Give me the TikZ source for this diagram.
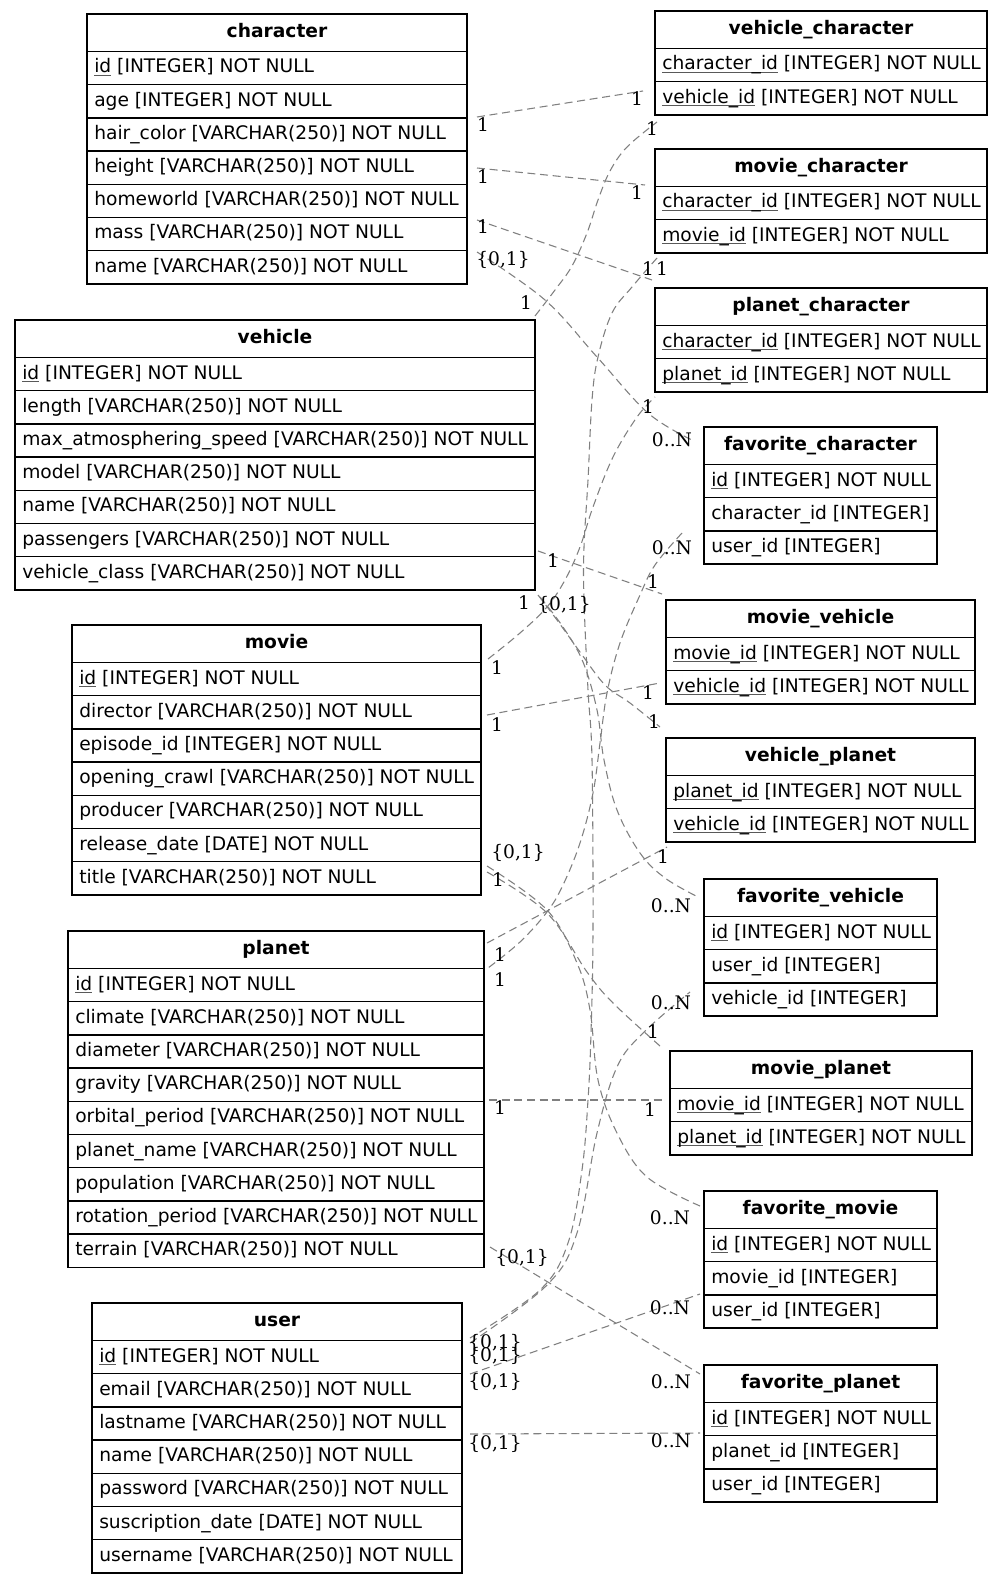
\documentclass[tikz,border=0pt]{standalone}
\usepackage{fontspec}
\setmainfont{DejaVu Sans}
\newfontfamily\lblfont{DejaVu Serif}
\newcommand\keyul[1]{\setbox0=\hbox{#1}\rlap{\textcolor{black!65}{\rule[-2.4pt]{\wd0}{0.8pt}}}\box0\relax}
\tikzset{
  tabframe/.style={draw=black, line width=1.1pt},
  tabrule/.style={draw=black, line width=1pt},
  tabtitle/.style={font=\fontsize{14}{16}\selectfont\bfseries, inner sep=0pt, anchor=base},
  rowtext/.style={font=\fontsize{14}{16}\selectfont, inner sep=0pt, anchor=base west},
  rel/.style={draw=black!50, line width=0.8pt, dash pattern=on 6pt off 3.5pt},
  card/.style={font=\lblfont\fontsize{14}{16}\selectfont, inner sep=0pt, text=black},
}
\newcommand{\erdtable}[7]{%
  \pgfmathsetmacro\erdB{#3+37.5+#6*33.2}
  \draw[tabframe] (#2,#3) rectangle (#4,\erdB);
  \node[tabtitle] (#1) at ({(#2+#4)/2},#3+23.5) {#5};
  \foreach \r [count=\i from 0] in {#7} {
    \draw[tabrule] (#2,#3+37.5+\i*33.2) -- (#4,#3+37.5+\i*33.2);
    \node[rowtext] (#1-\i) at (#2+7,#3+37.5+\i*33.2+21.5) {\r};
  }
}
\begin{document}
\begin{tikzpicture}[x=0.75pt,y=-0.75pt]
\useasboundingbox (0,0) rectangle (1003,1583);
\fill[white] (0,0) rectangle (1003,1583);

% ---------------- left tables ----------------
\erdtable{character}{87}{14}{467}{character}{7}{\keyul{id} [INTEGER] NOT NULL, age [INTEGER] NOT NULL, hair\_color [VARCHAR(250)] NOT NULL, height [VARCHAR(250)] NOT NULL, homeworld [VARCHAR(250)] NOT NULL, mass [VARCHAR(250)] NOT NULL, name [VARCHAR(250)] NOT NULL}
\erdtable{vehicle}{15}{320}{535}{vehicle}{7}{\keyul{id} [INTEGER] NOT NULL, length [VARCHAR(250)] NOT NULL, max\_atmosphering\_speed [VARCHAR(250)] NOT NULL, model [VARCHAR(250)] NOT NULL, name [VARCHAR(250)] NOT NULL, passengers [VARCHAR(250)] NOT NULL, vehicle\_class [VARCHAR(250)] NOT NULL}
\erdtable{movie}{72}{625}{481}{movie}{7}{\keyul{id} [INTEGER] NOT NULL, director [VARCHAR(250)] NOT NULL, episode\_id [INTEGER] NOT NULL, opening\_crawl [VARCHAR(250)] NOT NULL, producer [VARCHAR(250)] NOT NULL, release\_date [DATE] NOT NULL, title [VARCHAR(250)] NOT NULL}
\erdtable{planet}{68}{931}{484}{planet}{9}{\keyul{id} [INTEGER] NOT NULL, climate [VARCHAR(250)] NOT NULL, diameter [VARCHAR(250)] NOT NULL, gravity [VARCHAR(250)] NOT NULL, orbital\_period [VARCHAR(250)] NOT NULL, planet\_name [VARCHAR(250)] NOT NULL, population [VARCHAR(250)] NOT NULL, rotation\_period [VARCHAR(250)] NOT NULL, terrain [VARCHAR(250)] NOT NULL}
\erdtable{user}{92}{1303}{462}{user}{7}{\keyul{id} [INTEGER] NOT NULL, email [VARCHAR(250)] NOT NULL, lastname [VARCHAR(250)] NOT NULL, name [VARCHAR(250)] NOT NULL, password [VARCHAR(250)] NOT NULL, suscription\_date [DATE] NOT NULL, username [VARCHAR(250)] NOT NULL}

% ---------------- right tables ----------------
\erdtable{vehicle_character}{655}{11}{987}{vehicle\_character}{2}{\keyul{character\_id} [INTEGER] NOT NULL, \keyul{vehicle\_id} [INTEGER] NOT NULL}
\erdtable{movie_character}{655}{149}{987}{movie\_character}{2}{\keyul{character\_id} [INTEGER] NOT NULL, \keyul{movie\_id} [INTEGER] NOT NULL}
\erdtable{planet_character}{655}{288}{987}{planet\_character}{2}{\keyul{character\_id} [INTEGER] NOT NULL, \keyul{planet\_id} [INTEGER] NOT NULL}
\erdtable{favorite_character}{704}{427}{937}{favorite\_character}{3}{\keyul{id} [INTEGER] NOT NULL, character\_id [INTEGER], user\_id [INTEGER]}
\erdtable{movie_vehicle}{666}{600}{975}{movie\_vehicle}{2}{\keyul{movie\_id} [INTEGER] NOT NULL, \keyul{vehicle\_id} [INTEGER] NOT NULL}
\erdtable{vehicle_planet}{666}{738}{975}{vehicle\_planet}{2}{\keyul{planet\_id} [INTEGER] NOT NULL, \keyul{vehicle\_id} [INTEGER] NOT NULL}
\erdtable{favorite_vehicle}{704}{879}{937}{favorite\_vehicle}{3}{\keyul{id} [INTEGER] NOT NULL, user\_id [INTEGER], vehicle\_id [INTEGER]}
\erdtable{movie_planet}{670}{1051}{972}{movie\_planet}{2}{\keyul{movie\_id} [INTEGER] NOT NULL, \keyul{planet\_id} [INTEGER] NOT NULL}
\erdtable{favorite_movie}{704}{1191}{937}{favorite\_movie}{3}{\keyul{id} [INTEGER] NOT NULL, movie\_id [INTEGER], user\_id [INTEGER]}
\erdtable{favorite_planet}{704}{1365}{937}{favorite\_planet}{3}{\keyul{id} [INTEGER] NOT NULL, planet\_id [INTEGER], user\_id [INTEGER]}

% ---------------- connector end points ----------------
\coordinate (e1a) at (477,117);  \coordinate (e1b) at (643,91);
\coordinate (e2a) at (477,168);  \coordinate (e2b) at (645,185);
\coordinate (e3a) at (477,220);  \coordinate (e3b) at (652,280);
\coordinate (e4a) at (477,252);  \coordinate (e4b) at (692,440);
\coordinate (e5a) at (535,316);  \coordinate (e5b) at (657,122);
\coordinate (e6a) at (470,1338); \coordinate (e6b) at (657,258);
\coordinate (e7a) at (488,659);  \coordinate (e7b) at (655,397);
\coordinate (e8a) at (488,968);  \coordinate (e8b) at (682,533);
\coordinate (e9a) at (538,551);  \coordinate (e9b) at (662,594);
\coordinate (e10a) at (538,595); \coordinate (e10b) at (660,727);
\coordinate (e11a) at (540,597); \coordinate (e11b) at (698,897);
\coordinate (e12a) at (487,715); \coordinate (e12b) at (660,683);
\coordinate (e13a) at (487,866); \coordinate (e13b) at (700,1206);
\coordinate (e14a) at (487,872); \coordinate (e14b) at (660,1046);
\coordinate (e15a) at (487,943); \coordinate (e15b) at (667,847);
\coordinate (e16a) at (489,1100);\coordinate (e16b) at (662,1100);
\coordinate (e17a) at (490,1247);\coordinate (e17b) at (700,1374);
\coordinate (e18a) at (470,1343);\coordinate (e18b) at (690,992);
\coordinate (e19a) at (470,1374);\coordinate (e19b) at (700,1294);
\coordinate (e20a) at (470,1434);\coordinate (e20b) at (700,1433);

% ---------------- connectors ----------------
\draw[rel] (e1a) -- (e1b);
\draw[rel] (e2a) -- (e2b);
\draw[rel] (e3a) -- (e3b);
\draw[rel] plot[smooth, tension=0.6] coordinates {(e4a) (545,300) (597,357) (648,413) (e4b)};
\draw[rel] plot[smooth, tension=0.6] coordinates {(e5a) (555,290) (572,266) (587,233) (598,200) (610,171) (627,147) (e5b)};
\draw[rel] plot[smooth, tension=0.6] coordinates {(e6b) (632,287) (612,313) (598,357) (592,400) (588,480) (584,547) (584,600) (588,690) (592,760) (593,930) (591,1033) (588,1100) (582,1170) (568,1243) (540,1290) (e6a)};
\draw[rel] plot[smooth, tension=0.6] coordinates {(e7a) (520,633) (547,607) (565,580) (580,547) (593,507) (613,457) (637,417) (e7b)};
\draw[rel] plot[smooth, tension=0.6] coordinates {(e8b) (655,565) (640,595) (620,643) (607,693) (600,743) (593,793) (580,843) (563,885) (547,912) (520,942) (e8a)};
\draw[rel] (e9a) -- (e9b);
\draw[rel] plot[smooth, tension=0.6] coordinates {(e10a) (557,620) (580,652) (605,685) (630,703) (e10b)};
\draw[rel] plot[smooth, tension=0.6] coordinates {(e11a) (563,627) (583,662) (597,710) (604,760) (617,810) (640,853) (665,878) (e11b)};
\draw[rel] (e12a) -- (e12b);
\draw[rel] plot[smooth, tension=0.6] coordinates {(e13a) (547,910) (577,963) (590,1010) (598,1080) (617,1133) (647,1177) (e13b)};
\draw[rel] plot[smooth, tension=0.6] coordinates {(e14a) (547,913) (587,972) (613,1003) (e14b)};
\draw[rel] (e15a) -- (e15b);
\draw[rel] (e16a) -- (e16b);
\draw[rel] (e17a) -- (e17b);
\draw[rel] plot[smooth, tension=0.6] coordinates {(e18a) (547,1285) (577,1233) (597,1133) (617,1067) (643,1033) (e18b)};
\draw[rel] (e19a) -- (e19b);
\draw[rel] (e20a) -- (e20b);

% ---------------- cardinality labels ----------------
\node[card] (l1a) at (483,125) {1};   \node[card] (l1b) at (637,99) {1};
\node[card] (l2a) at (483,177) {1};   \node[card] (l2b) at (637,193) {1};
\node[card] (l3a) at (483,227) {1};   \node[card] (l3b) at (648,269) {1};
\node[card] (l4a) at (503,260) {\{0,1\}}; \node[card] (l4b) at (672,440) {0..N};
\node[card] (l5a) at (526,303) {1};   \node[card] (l5b) at (652,129) {1};
\node[card] (l6a) at (495,1343) {\{0,1\}}; \node[card] (l6b) at (662,269) {1};
\node[card] (l7a) at (497,668) {1};   \node[card] (l7b) at (648,407) {1};
\node[card] (l8a) at (500,980) {1};   \node[card] (l8b) at (672,548) {0..N};
\node[card] (l9a) at (553,561) {1};   \node[card] (l9b) at (653,582) {1};
\node[card] (l10a) at (524,603) {1};  \node[card] (l10b) at (654,722) {1};
\node[card] (l11a) at (564,605) {\{0,1\}}; \node[card] (l11b) at (671,906) {0..N};
\node[card] (l12a) at (497,725) {1};  \node[card] (l12b) at (648,693) {1};
\node[card] (l13a) at (518,853) {\{0,1\}}; \node[card] (l13b) at (670,1218) {0..N};
\node[card] (l14a) at (498,880) {1};  \node[card] (l14b) at (653,1032) {1};
\node[card] (l15a) at (500,955) {1};  \node[card] (l15b) at (663,857) {1};
\node[card] (l16a) at (500,1108) {1}; \node[card] (l16b) at (650,1110) {1};
\node[card] (l17a) at (522,1258) {\{0,1\}}; \node[card] (l17b) at (671,1382) {0..N};
\node[card] (l18a) at (495,1356) {\{0,1\}}; \node[card] (l18b) at (671,1003) {0..N};
\node[card] (l19a) at (495,1382) {\{0,1\}}; \node[card] (l19b) at (670,1308) {0..N};
\node[card] (l20a) at (495,1444) {\{0,1\}}; \node[card] (l20b) at (671,1441) {0..N};
\end{tikzpicture}
\end{document}
